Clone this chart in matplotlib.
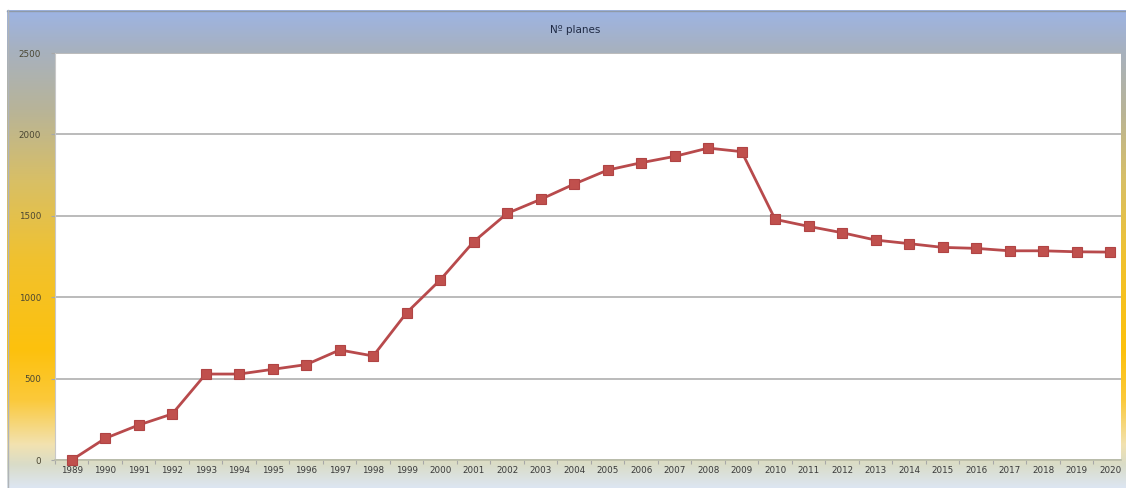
import numpy as np
import matplotlib.pyplot as plt
from matplotlib.colors import to_rgb

years = list(range(1989, 2021))
planes = [0, 133, 215, 283, 528, 528, 557, 586, 676, 639,
          905, 1106, 1341, 1515, 1601, 1695, 1781, 1826, 1865, 1916,
          1894, 1478, 1435, 1396, 1351, 1329, 1306, 1300, 1285, 1285,
          1279, 1277]
title = "Nº planes"

W, H = 1126, 488
fig = plt.figure(figsize=(W / 100, H / 100), dpi=100)

# chart area background: vertical gradient blue -> gold -> light blue
bg = fig.add_axes([0, 0, 1, 1])
bg.set_xlim(0, W)
bg.set_ylim(H, 0)
bg.axis("off")
stops = [(10, "#9db4e4"), (50, "#a7b1bf"), (110, "#b8b498"), (180, "#d8bf66"),
         (260, "#f1c22e"), (350, "#fdc10d"), (400, "#fbc93a"), (445, "#f2e2b0"),
         (465, "#d9dcc8"), (488, "#dde6f2")]
ys = np.arange(10, H + 1)
pos = [s[0] for s in stops]
cols = np.array([to_rgb(s[1]) for s in stops])
grad = np.stack([np.interp(ys, pos, cols[:, i]) for i in range(3)], axis=1)
img = np.repeat(grad[:, None, :], 2, axis=1)
bg.imshow(img, extent=(7, W, H, 10), aspect="auto", interpolation="bilinear")
bg.plot([7, W], [10.5, 10.5], color="#8f9aa8", lw=1)
bg.plot([7.5, 7.5], [10, H], color="#b0b4b8", lw=1)
bg.text(575, 30, title, ha="center", va="center", fontsize=7.5,
        color="#1f2a44", family="DejaVu Sans")

# plot area in pixel coordinates
left, right, top, bottom = 55, 1121, 53, 460
ax = fig.add_axes([left / W, (H - bottom) / H, (right - left) / W, (bottom - top) / H])
ax.set_facecolor("white")

x0 = 1989 - 16 / 33.52
x1 = 1989 + (right - 71) / 33.52
ax.set_xlim(x0, x1)
ax.set_ylim(0, 2500)

ax.plot(years, planes, color="#b84a4c", lw=2.0, marker="s", markersize=6.5,
        markerfacecolor="#c0504d", markeredgecolor="#b04444", markeredgewidth=0.8,
        zorder=5, clip_on=False)

ax.set_yticks([0, 500, 1000, 1500, 2000, 2500])
ax.yaxis.grid(True, color="#a8a8a8", lw=1.1)
ax.set_axisbelow(True)
ax.set_xticks(years)
ax.set_xticks([y + 0.5 for y in years[:-1]] + [years[0] - 0.5], minor=True)
ax.tick_params(axis="x", which="major", length=0, labelsize=6.3, pad=4,
               labelcolor="#3a3a3a")
ax.tick_params(axis="x", which="minor", length=3, color="#a8a8a8", width=0.8)
ax.tick_params(axis="y", length=3, color="#a8a8a8", labelsize=6.3,
               labelcolor="#4a4632", pad=7)

for s in ["top", "right"]:
    ax.spines[s].set_visible(False)
ax.spines["left"].set_color("#c8c8c8")
ax.spines["bottom"].set_color("#b9bca8")
ax.spines["bottom"].set_linewidth(1.2)

fig.savefig("out.png", dpi=100)
